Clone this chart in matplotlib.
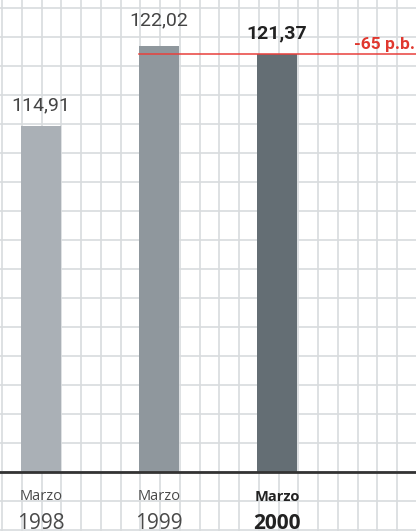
import matplotlib
matplotlib.use("Agg")
import matplotlib.pyplot as plt
import numpy as np

# data
months = ["Marzo", "Marzo", "Marzo"]
years = ["1998", "1999", "2000"]
values = [114.91, 122.02, 121.37]
value_labels = ["114,91", "122,02", "121,37"]
change_label = "-65 p.b."

bar_colors = ["#aab0b6", "#8f979d", "#646e74"]
grid_color = "#d8dbde"

W, H = 416, 531
fig = plt.figure(figsize=(W / 100, H / 100), dpi=100)

# background grid paper
bg = fig.add_axes([0, 0, 1, 1])
bg.set_xlim(0, W)
bg.set_ylim(H, 0)
bg.set_xticks(np.arange(2, W, 19.75))
bg.set_yticks(np.arange(472, 0, -29)[::-1].tolist() + [501, 530])
bg.grid(True, color=grid_color, linewidth=1.2)
bg.tick_params(length=0, labelbottom=False, labelleft=False)
for s in bg.spines.values():
    s.set_visible(False)
bg.set_zorder(0)

# main chart
ax = fig.add_axes([0, 59 / H, 1, 472.5 / H])
ax.patch.set_alpha(0)
ax.set_zorder(1)
x = np.arange(len(values))
ax.bar(x, values, width=40 / 118, color=bar_colors, zorder=2)
ax.set_xlim(-41 / 118, (W - 41) / 118)
ax.set_ylim(84, 126.2)
ax.set_xticks([])
ax.set_yticks([])
for side in ["top", "left", "right"]:
    ax.spines[side].set_visible(False)
ax.spines["bottom"].set_color("#333333")
ax.spines["bottom"].set_linewidth(2)

# reference line from latest value
ax.plot([x[1] - 20 / 118, ax.get_xlim()[1]], [values[2], values[2]],
        color="#e8403c", linewidth=1.1, zorder=3, clip_on=False)
ax.annotate(change_label, xy=(1, values[2]), xycoords=("axes fraction", "data"),
            xytext=(-1, 6.5), textcoords="offset points", ha="right", va="center",
            color="#e0382f", fontsize=12.5, fontweight="bold", family="Roboto")

label_offsets = [8, 12, 8]
for i, (v, lab) in enumerate(zip(values, value_labels)):
    last = i == len(values) - 1
    ax.annotate(lab, xy=(x[i], v), xytext=(0, label_offsets[i]),
                textcoords="offset points", ha="center", va="bottom",
                fontsize=14, color="#222222" if last else "#444444",
                fontweight="bold" if last else "normal", family="Roboto")
    ax.annotate(months[i], xy=(x[i], 0), xycoords=("data", "axes fraction"),
                xytext=(0, -18), textcoords="offset points", ha="center", va="center",
                fontsize=10.5, color="#222222" if last else "#4a4a4a",
                fontweight="bold" if last else "normal", family="Open Sans")
    ax.annotate(years[i], xy=(x[i], 0), xycoords=("data", "axes fraction"),
                xytext=(0, -37), textcoords="offset points", ha="center", va="center",
                fontsize=15, color="#222222" if last else "#4a4a4a",
                fontweight="bold" if last else "normal", family="Open Sans")

fig.savefig("out.png", dpi=100)
